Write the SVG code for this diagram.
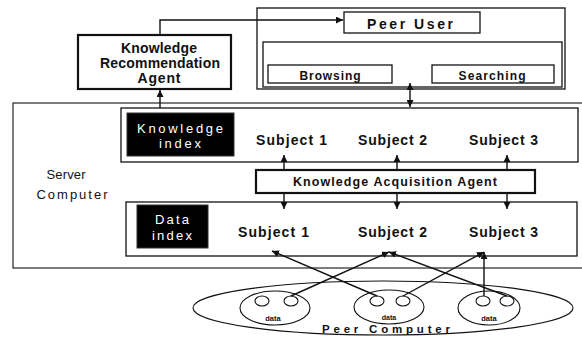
<svg xmlns="http://www.w3.org/2000/svg" width="582" height="337" viewBox="0 0 582 337">
<style>
text{font-family:"Liberation Sans",Arial,sans-serif;fill:#111}
.b{font-weight:bold}
.box{fill:#fff;stroke:#111;stroke-width:1.3}
.thick{fill:#fff;stroke:#111;stroke-width:2.2}
.blk{fill:#000;stroke:#333;stroke-width:1}
.w{fill:#fff}
.ln{fill:none;stroke:#111;stroke-width:1.4}
.thin{fill:none;stroke:#111;stroke-width:1.1}
</style>
<defs>
<marker id="ah" viewBox="0 0 8 8" refX="8" refY="4" markerWidth="7" markerHeight="7" markerUnits="userSpaceOnUse" orient="auto-start-reverse">
<path d="M0,0 L8,4 L0,8 z" fill="#111"/>
</marker>
</defs>
<rect width="582" height="337" fill="#fff"/>

<g id="server-computer">
<rect x="13" y="103" width="580" height="165" class="thin"/>
<text x="66" y="179" font-size="13" textLength="39" lengthAdjust="spacing" text-anchor="middle">Server</text>
<text x="72" y="199" font-size="13" textLength="71" lengthAdjust="spacing" text-anchor="middle">Computer</text>
</g>

<g id="peer-user-area">
<rect x="257" y="8" width="308" height="81" class="box"/>
<rect x="263" y="42" width="299" height="45" class="box"/>
</g>

<g id="peer-user">
<rect x="344" y="12" width="136" height="21" class="box"/>
<text x="410" y="29" font-size="14" class="b" text-anchor="middle" textLength="86" lengthAdjust="spacing">Peer User</text>
</g>

<g id="browsing">
<rect x="268" y="65" width="124" height="18" class="box"/>
<text x="330" y="80" font-size="12" class="b" text-anchor="middle" textLength="61" lengthAdjust="spacing">Browsing</text>
</g>

<g id="searching">
<rect x="432" y="65" width="122" height="18" class="box"/>
<text x="492" y="80" font-size="12" class="b" text-anchor="middle" textLength="67" lengthAdjust="spacing">Searching</text>
</g>

<g id="knowledge-recommendation-agent">
<rect x="78" y="35" width="153" height="54" class="thick"/>
<text x="159" y="53" font-size="14" class="b" text-anchor="middle" textLength="76" lengthAdjust="spacing">Knowledge</text>
<text x="160" y="68" font-size="14" class="b" text-anchor="middle" textLength="120" lengthAdjust="spacing">Recommendation</text>
<text x="159" y="83" font-size="14" class="b" text-anchor="middle" textLength="43" lengthAdjust="spacing">Agent</text>
</g>

<g id="knowledge-row">
<rect x="121" y="108" width="457" height="54" class="box"/>
</g>

<g id="knowledge-index">
<rect x="127" y="113" width="107" height="43" class="blk"/>
<text x="180" y="133" font-size="13" class="w" text-anchor="middle" textLength="86" lengthAdjust="spacing">Knowledge</text>
<text x="180" y="148" font-size="13" class="w" text-anchor="middle" textLength="42" lengthAdjust="spacing">index</text>
</g>

<g id="k-subject-1"><text x="256" y="145" font-size="14" class="b" textLength="71" lengthAdjust="spacing">Subject 1</text></g>
<g id="k-subject-2"><text x="358" y="145" font-size="14" class="b" textLength="69" lengthAdjust="spacing">Subject 2</text></g>
<g id="k-subject-3"><text x="469" y="145" font-size="14" class="b" textLength="69" lengthAdjust="spacing">Subject 3</text></g>

<g id="knowledge-acquisition-agent">
<rect x="256" y="170" width="279" height="23" class="thick"/>
<text x="395" y="186" font-size="12.5" class="b" text-anchor="middle" textLength="204" lengthAdjust="spacing">Knowledge Acquisition Agent</text>
</g>

<g id="data-row">
<rect x="126" y="202" width="451" height="54" class="box"/>
</g>

<g id="data-index">
<rect x="137" y="205" width="71" height="43" class="blk"/>
<text x="172" y="224" font-size="13" class="w" text-anchor="middle" textLength="34" lengthAdjust="spacing">Data</text>
<text x="172" y="240" font-size="13" class="w" text-anchor="middle" textLength="40" lengthAdjust="spacing">index</text>
</g>

<g id="d-subject-1"><text x="238" y="237" font-size="14" class="b" textLength="71" lengthAdjust="spacing">Subject 1</text></g>
<g id="d-subject-2"><text x="358" y="237" font-size="14" class="b" textLength="69" lengthAdjust="spacing">Subject 2</text></g>
<g id="d-subject-3"><text x="469" y="237" font-size="14" class="b" textLength="69" lengthAdjust="spacing">Subject 3</text></g>

<g id="peer-computer">
<ellipse cx="383" cy="308" rx="190" ry="27" class="thin"/>
<text x="386" y="333" font-size="11.5" class="b" text-anchor="middle" textLength="128" lengthAdjust="spacing">Peer Computer</text>
</g>

<g id="data-1">
<ellipse cx="275" cy="308" rx="35" ry="17" class="thin"/>
<ellipse cx="262" cy="301" rx="7" ry="5" class="thin"/>
<ellipse cx="291" cy="301" rx="7" ry="5" class="thin"/>
<text x="273" y="321" font-size="7.5" class="b" text-anchor="middle">data</text>
</g>

<g id="data-2">
<ellipse cx="389" cy="307" rx="35" ry="17" class="thin"/>
<ellipse cx="377" cy="301" rx="7" ry="5" class="thin"/>
<ellipse cx="403" cy="301" rx="7" ry="5" class="thin"/>
<text x="389" y="320" font-size="7" class="b" text-anchor="middle">data</text>
</g>

<g id="data-3">
<ellipse cx="489" cy="308" rx="31" ry="17" class="thin"/>
<ellipse cx="483" cy="301" rx="7" ry="5" class="thin"/>
<ellipse cx="507" cy="301" rx="7" ry="5" class="thin"/>
<text x="489" y="321" font-size="7.5" class="b" text-anchor="middle">data</text>
</g>

<g id="connectors">
<polyline points="160,35 160,20 343,20" class="ln" marker-end="url(#ah)"/>
<line x1="160" y1="108" x2="160" y2="90" class="ln" marker-end="url(#ah)"/>
<line x1="410" y1="83" x2="410" y2="107" class="ln" stroke-width="2" marker-start="url(#ah)" marker-end="url(#ah)"/>
<line x1="284" y1="170" x2="284" y2="155" class="ln" marker-end="url(#ah)"/>
<line x1="397" y1="170" x2="397" y2="155" class="ln" marker-end="url(#ah)"/>
<line x1="507" y1="170" x2="507" y2="155" class="ln" marker-end="url(#ah)"/>
<line x1="284" y1="193" x2="284" y2="209" class="ln" marker-end="url(#ah)"/>
<line x1="397" y1="193" x2="397" y2="209" class="ln" marker-end="url(#ah)"/>
<line x1="507" y1="193" x2="507" y2="209" class="ln" marker-end="url(#ah)"/>
<line x1="291" y1="296" x2="389" y2="252" class="ln" marker-end="url(#ah)"/>
<line x1="377" y1="296" x2="272" y2="251" class="ln" marker-end="url(#ah)"/>
<line x1="403" y1="296" x2="484" y2="252" class="ln" marker-end="url(#ah)"/>
<line x1="484" y1="296" x2="484" y2="252" class="ln" marker-end="url(#ah)"/>
<line x1="507" y1="296" x2="389" y2="252" class="ln" marker-end="url(#ah)"/>
</g>
</svg>
